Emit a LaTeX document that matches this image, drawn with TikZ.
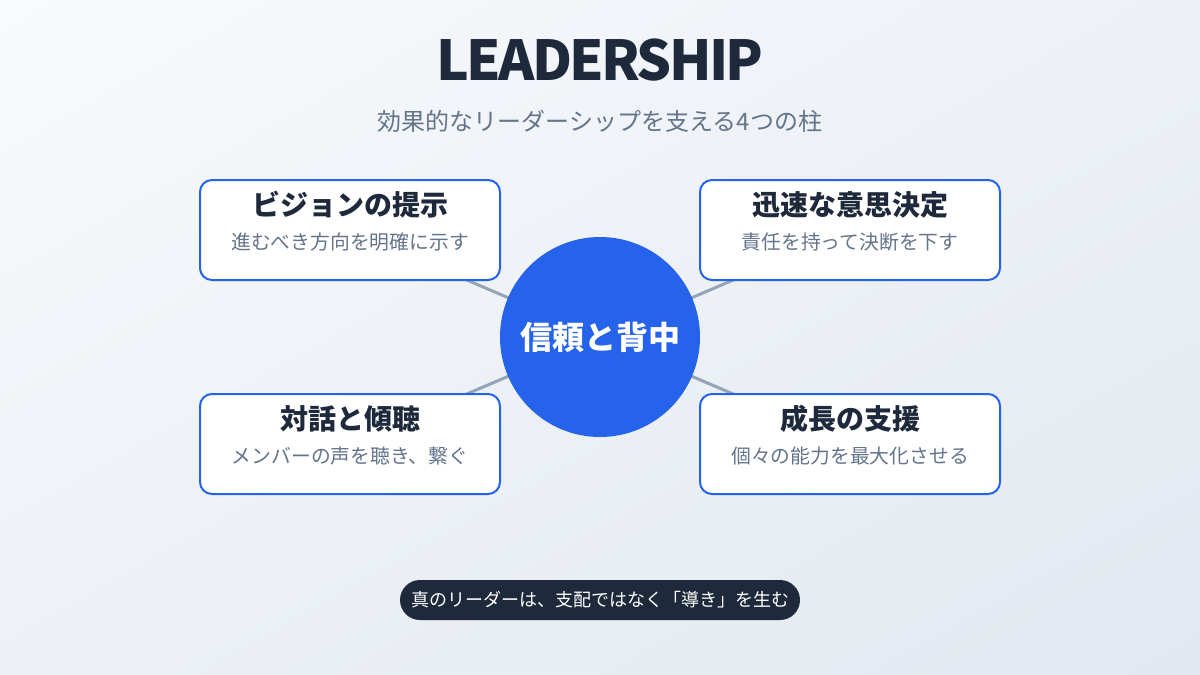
\documentclass[tikz,border=0pt]{standalone}
\usepackage{fontspec}
\setmainfont{Noto Sans CJK JP}
\usetikzlibrary{shadings,backgrounds}
\definecolor{bgA}{HTML}{F8FAFC}
\definecolor{bgB}{HTML}{E2E8F0}
\definecolor{bgM}{HTML}{EDF1F6}
\definecolor{blueM}{HTML}{2563EB}
\definecolor{darkT}{HTML}{1E293B}
\definecolor{grayT}{HTML}{64748B}
\definecolor{lineC}{HTML}{94A3B8}
\tikzset{
  pillar/.style={draw=blueM, line width=1pt, fill=white, rounded corners=6pt, minimum width=150pt, minimum height=50pt},
  ptitle/.style={font=\bfseries\fontsize{14}{16}\selectfont, text=darkT},
  pdesc/.style={font=\fontsize{9.9}{11}\selectfont, text=grayT},
  link/.style={draw=lineC, line width=1.5pt}
}
\begin{document}
\begin{tikzpicture}[x=0.5pt,y=-0.5pt]
\useasboundingbox (0,0) rectangle (1200,675);
\begin{scope}[on background layer]
\shade[upper left=bgA, upper right=bgM, lower left=bgM, lower right=bgB] (0,0) rectangle (1200,675);
\end{scope}
\node (title) at (600,60) {\bfseries\fontsize{27.5}{32}\selectfont\addfontfeature{LetterSpace=-5}\color{darkT}LEADERSHIP};
\node (sub) at (600,121) {\fontsize{12}{14}\selectfont\color{grayT}効果的なリーダーシップを支える4つの柱};
\node[pillar] (b1) at (350,230) {};
\node[pillar] (b2) at (850,230) {};
\node[pillar] (b3) at (350,444) {};
\node[pillar] (b4) at (850,444) {};
\node[circle, fill=blueM, minimum size=100pt, inner sep=0pt] (c) at (600,337) {};
\begin{scope}[on background layer]
\draw[link] (c.center) -- (b1.center);
\draw[link] (c.center) -- (b2.center);
\draw[link] (c.center) -- (b3.center);
\draw[link] (c.center) -- (b4.center);
\end{scope}
\node[font=\bfseries\fontsize{16}{18}\selectfont, text=white] (ct) at (600,337) {信頼と背中};
\node[ptitle] (t1) at (350,205) {ビジョンの提示};
\node[pdesc] (d1) at (350,242) {進むべき方向を明確に示す};
\node[ptitle] (t2) at (850,205) {迅速な意思決定};
\node[pdesc] (d2) at (850,242) {責任を持って決断を下す};
\node[ptitle] (t3) at (350,419) {対話と傾聴};
\node[pdesc] (d3) at (350,456) {メンバーの声を聴き、繋ぐ};
\node[ptitle] (t4) at (850,419) {成長の支援};
\node[pdesc] (d4) at (850,456) {個々の能力を最大化させる};
\node[fill=darkT, rounded corners=10pt, minimum width=200pt, minimum height=20pt, text=white, font=\fontsize{9}{10}\selectfont, inner sep=0pt] (pill) at (600,600) {真のリーダーは、支配ではなく「導き」を生む};
\end{tikzpicture}
\end{document}
